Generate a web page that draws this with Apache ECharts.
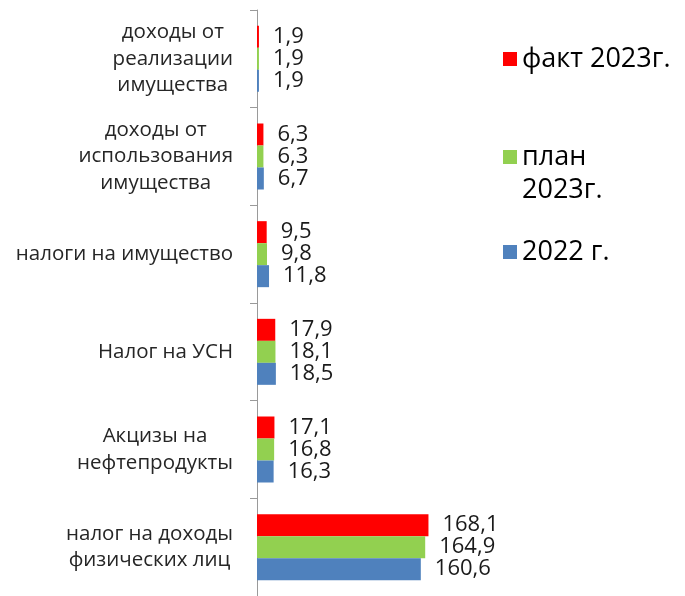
<!DOCTYPE html>
<html>
<head>
<meta charset="utf-8">
<script src="https://cdn.jsdelivr.net/npm/echarts@6/dist/echarts.min.js"></script>
<style>
html, body { margin: 0; padding: 0; background: #fff; }
#chart { width: 685px; height: 596px; }
</style>
</head>
<body>
<div id="chart"></div>
<script>
var categories = [
    'доходы от\nреализации\nимущества',
    'доходы от\nиспользования\nимущества',
    'налоги на имущество',
    'Налог на УСН',
    'Акцизы на\nнефтепродукты',
    'налог на доходы\nфизических лиц'
]
var fact2023 = [1.9, 6.3, 9.5, 17.9, 17.1, 168.1]
var plan2023 = [1.9, 6.3, 9.8, 18.1, 16.8, 164.9]
var year2022 = [1.9, 6.7, 11.8, 18.5, 16.3, 160.6]
var seriesNames = ['факт 2023г.', 'план 2023г.', '2022 г.']
var seriesColors = ['#ff0000', '#92d050', '#4f81bd']

var font = 'Open Sans'
var chart = echarts.init(document.getElementById('chart'))

function makeSeries(name, color, data) {
    return {
        name: name,
        type: 'bar',
        data: data,
        barWidth: 22,
        barGap: '0%',
        itemStyle: { color: color },
        label: {
            show: true,
            position: 'right',
            distance: 14,
            color: '#1a1a1a',
            fontFamily: font,
            fontSize: 22,
            formatter: function (p) {
                return String(p.value).replace('.', ',')
            }
        }
    }
}

function makeLegend(name, top, extra) {
    var lg = {
        data: [name],
        left: 503,
        top: top,
        padding: 0,
        icon: 'rect',
        itemWidth: 14,
        itemHeight: 14,
        selectedMode: false,
        textStyle: { fontFamily: font, fontSize: 27, color: '#000', lineHeight: 33 }
    }
    if (extra) {
        lg.formatter = extra.formatter
        lg.textStyle.rich = extra.rich
    }
    return lg
}

var option = {
    animation: false,
    backgroundColor: '#fff',
    color: seriesColors,
    grid: { left: 257, top: 10, width: 204, height: 587 },
    legend: [
        makeLegend(seriesNames[0], 42.5),
        makeLegend(seriesNames[1], 124, {
            // first line level with the marker, second line below it
            formatter: function () { return '{a|план}\n{b|2023г.}' },
            rich: {
                a: { fontFamily: font, fontSize: 27, color: '#000', lineHeight: 66 },
                b: { fontFamily: font, fontSize: 27, color: '#000', lineHeight: 0 }
            }
        }),
        makeLegend(seriesNames[2], 235.5)
    ],
    xAxis: {
        type: 'value',
        min: 0,
        max: 200,
        show: false
    },
    yAxis: {
        type: 'category',
        inverse: true,
        data: categories,
        axisLine: { lineStyle: { color: '#9a9a9a', width: 1 } },
        axisTick: { show: true, length: 7, lineStyle: { color: '#9a9a9a' } },
        axisLabel: {
            margin: 24,
            color: '#262626',
            fontFamily: font,
            fontSize: 20.5,
            lineHeight: 26.5,
            formatter: function (v) {
                return v.split('\n').map(function (s) { return '{c|' + s + '}' }).join('\n')
            },
            rich: {
                c: { align: 'center', fontFamily: font, fontSize: 20.5, lineHeight: 26.5, color: '#262626' }
            }
        }
    },
    series: [
        makeSeries(seriesNames[0], seriesColors[0], fact2023),
        makeSeries(seriesNames[1], seriesColors[1], plan2023),
        makeSeries(seriesNames[2], seriesColors[2], year2022)
    ]
}
chart.setOption(option)
</script>
</body>
</html>
